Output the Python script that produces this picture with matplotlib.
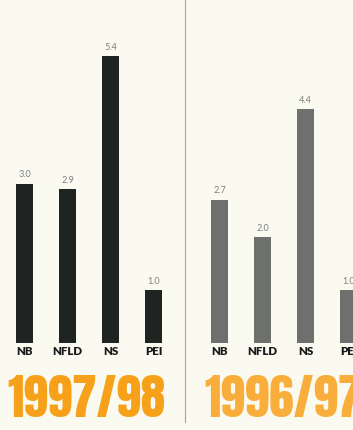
import matplotlib
matplotlib.use("Agg")

import matplotlib.pyplot as plt
from matplotlib.lines import Line2D

W, H, DPI = 353, 430, 100

regions = ["NB", "NFLD", "NS", "PEI"]
rate_9798 = [3.0, 2.9, 5.4, 1.0]
rate_9697 = [2.7, 2.0, 4.4, 1.0]
year_left = "1997/98"
year_right = "1996/97"

BG = "#fbfaf1"
LABEL_FONT = ["Lato", "DejaVu Sans"]
YEAR_FONT = ["Anton", "DejaVu Sans"]

fig = plt.figure(figsize=(W / DPI, H / DPI), dpi=DPI, facecolor=BG)

# axes placed in pixel units: bars sit on y=343, split at x=185
base = (H - 343) / H
split = 185 / W
step_px = 43
ylim_top = 343 / 53.1


def panel(rect, x0_px, width_px, values, bar_color):
    ax = fig.add_axes(rect)
    ax.set_facecolor("none")
    lo = -x0_px / step_px
    ax.set_xlim(lo, lo + width_px / step_px)
    ax.set_ylim(0, ylim_top)
    bars = ax.bar(range(len(regions)), values, width=17 / step_px,
                  color=bar_color, edgecolor="none")
    for b, v in zip(bars, values):
        ax.annotate(f"{v:.1f}", (b.get_x() + b.get_width() / 2, v),
                    xytext=(0, 4.5), textcoords="offset points",
                    ha="center", va="baseline", fontsize=6.6,
                    family=LABEL_FONT, color="#7e7e7e")
    ax.set_xticks(range(len(regions)))
    ax.set_xticklabels(regions, family=LABEL_FONT, fontweight="heavy",
                       fontsize=8.3, color="#1a1a1a")
    ax.tick_params(axis="x", length=0, pad=2.3)
    ax.set_yticks([])
    for s in ax.spines.values():
        s.set_visible(False)
    return ax


panel([0, base, split, 343 / H], 24.5, 185, rate_9798, "#1f2321")
panel([split, base, 1 - split, 343 / H], 34.5, W - 185, rate_9697, "#6e706e")

fig.add_artist(Line2D([split, split], [8 / H, 1], transform=fig.transFigure,
                      color="#a5a5a0", lw=0.8))

fig.text(86 / W, 1 - 399 / H, year_left, family=YEAR_FONT, fontsize=35.5,
         color="#f7a11a", ha="center", va="center")
fig.text(204 / W, 1 - 399 / H, year_right, family=YEAR_FONT, fontsize=35.5,
         color="#f9ae3c", ha="left", va="center")

fig.savefig("out.png", dpi=DPI, facecolor=BG)
